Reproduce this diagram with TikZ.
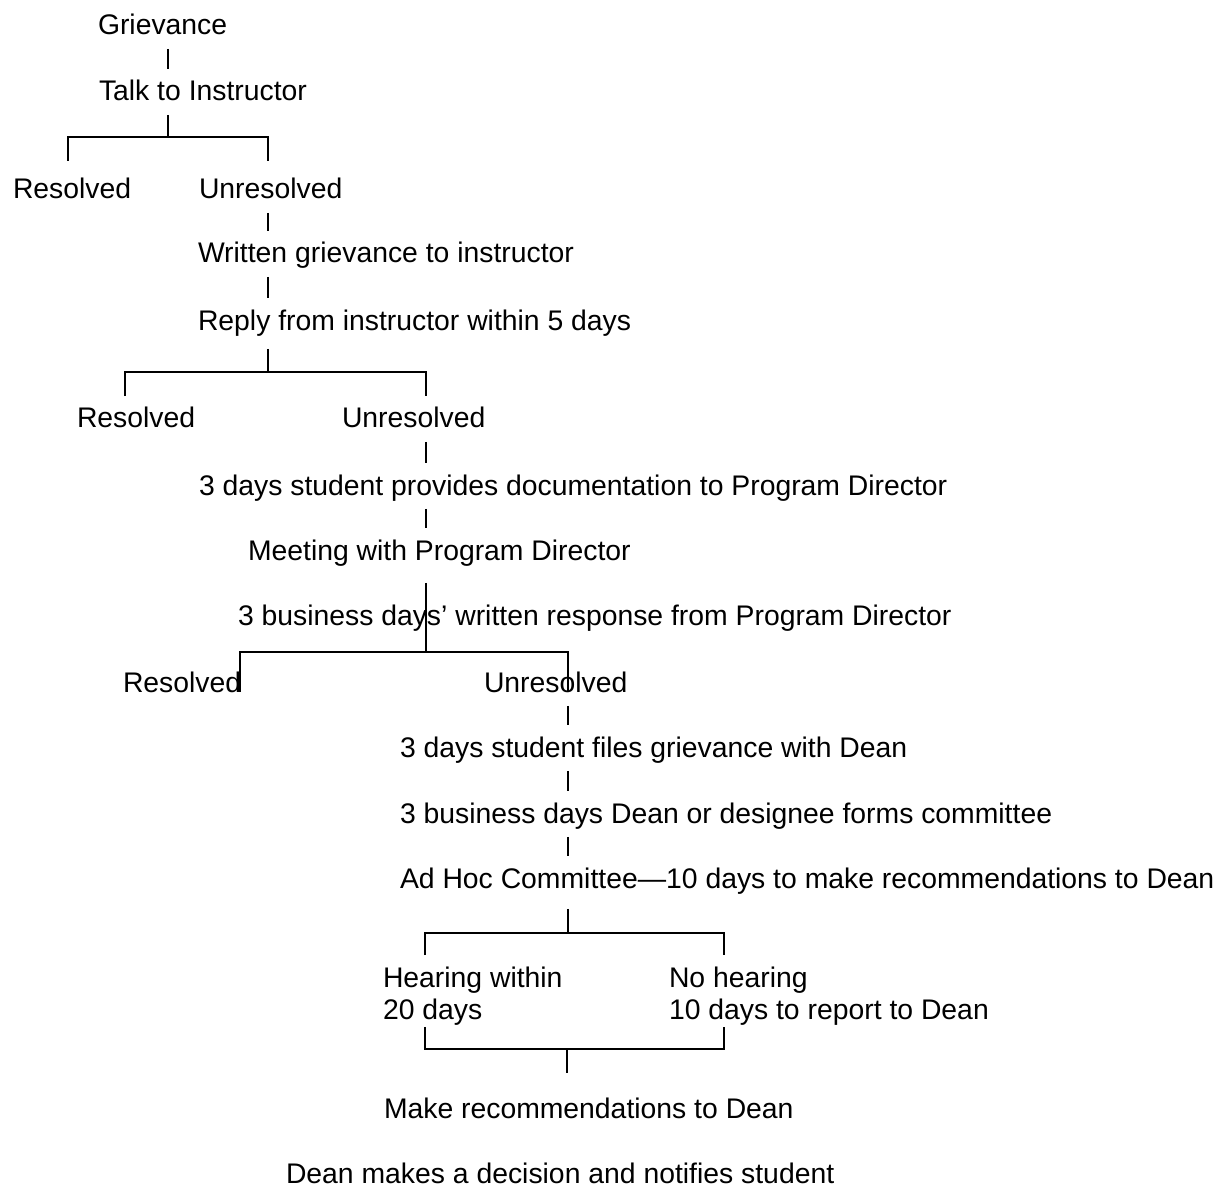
\documentclass[tikz,border=0pt]{standalone}
\usepackage{fontspec}
\setmainfont{Liberation Sans}

\begin{document}
\begin{tikzpicture}[x=0.5pt, y=-0.5pt, line width=1pt,
	every node/.style={anchor=base west, inner sep=0, text height=15.5pt, text depth=6.4pt, font=\fontsize{14.17pt}{17pt}\selectfont}]
		
		\useasboundingbox (0,0) rectangle (1223,1188);
		
		% steps
		\node (grv) at (97,35)  {Grievance};
		\node (tlk) at (98,101) {Talk to Instructor};
		\node (res1) at (12,199)  {Resolved};
		\node (unr1) at (198,199) {Unresolved};
		\node (wrt) at (197,263) {Written grievance to instructor};
		\node (rep) at (197,330) {Reply from instructor within 5 days};
		\node (res2) at (76,428)  {Resolved};
		\node (unr2) at (341,428) {Unresolved};
		\node (doc) at (198,495) {3 days student provides documentation to Program Director};
		\node (mtg) at (247,560) {Meeting with Program Director};
		\node (bus) at (237,625) {3 business days’ written response from Program Director};
		\node (res3) at (122,692) {Resolved};
		\node (unr3) at (483,692) {Unresolved};
		\node (fil) at (399,757) {3 days student files grievance with Dean};
		\node (com) at (399,823) {3 business days Dean or designee forms committee};
		\node (adh) at (399,888) {Ad Hoc Committee---10 days to make recommendations to Dean};
		\node (hr1) at (382,987)  {Hearing within};
		\node (hr2) at (382,1019) {20 days};
		\node (nh1) at (668,987)  {No hearing};
		\node (nh2) at (668,1019) {10 days to report to Dean};
		\node (mk) at (383,1118) {Make recommendations to Dean};
		\node (dec) at (285,1183) {Dean makes a decision and notifies student};
		
		% branch points
		\coordinate (j1) at (168,137);
		\coordinate (j1l) at (68,137);
		\coordinate (j1r) at (268,137);
		\coordinate (j2) at (268,372);
		\coordinate (j2l) at (125,372);
		\coordinate (j2r) at (426,372);
		\coordinate (j3) at (426,652);
		\coordinate (j3l) at (240,652);
		\coordinate (j3r) at (568,652);
		\coordinate (j4) at (568,933);
		\coordinate (j4l) at (425,933);
		\coordinate (j4r) at (724,933);
		\coordinate (j5) at (567,1049);
		\coordinate (j5l) at (425,1049);
		\coordinate (j5r) at (724,1049);
		\coordinate (e5) at (567,1073);
		
		% talk to instructor
		\draw (j1 |- grv.south) -- (j1 |- tlk.north);
		\draw (j1 |- tlk.south) -- (j1);
		\draw ([yshift=3pt]j1l |- res1.north) -- (j1l) -- (j1r) -- ([yshift=3pt]j1r |- unr1.north);
		
		% written grievance
		\draw (j1r |- unr1.south) -- (j1r |- wrt.north);
		\draw (j2 |- wrt.south) -- (j2 |- rep.north);
		\draw ([yshift=-2.5pt]j2 |- rep.south) -- (j2);
		\draw (j2l |- res2.north) -- (j2l) -- (j2r) -- (j2r |- unr2.north);
		
		% program director
		\draw (j2r |- unr2.south) -- (j2r |- doc.north);
		\draw (j3 |- doc.south) -- (j3 |- mtg.north);
		\draw ([yshift=-4.5pt]j3 |- mtg.south) -- (j3);
		\draw (j3l |- res3.base) -- (j3l) -- (j3r) -- (j3r |- unr3.base);
		
		% dean
		\draw (j3r |- unr3.south) -- (j3r |- fil.north);
		\draw (j4 |- fil.south) -- (j4 |- com.north);
		\draw (j4 |- com.south) -- (j4 |- adh.north);
		\draw ([yshift=-3.5pt]j4 |- adh.south) -- (j4);
		\draw (j4l |- hr1.north) -- (j4l) -- (j4r) -- (j4r |- nh1.north);
		\draw ([yshift=3pt]j5l |- hr2.south) -- (j5l) -- (j5r) -- ([yshift=3pt]j5r |- nh2.south);
		\draw (j5) -- (e5);
		
	\end{tikzpicture}
\end{document}
